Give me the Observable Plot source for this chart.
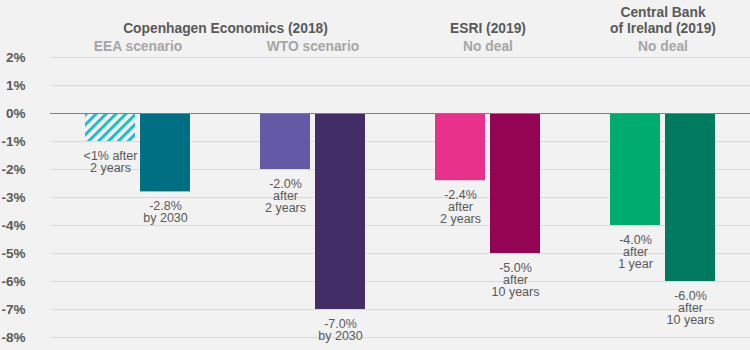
<!DOCTYPE html>
<html><head><meta charset="utf-8">
<script src="https://cdn.jsdelivr.net/npm/d3@7"></script>
<script src="https://cdn.jsdelivr.net/npm/@observablehq/plot@0.6"></script>
<style>
html,body{margin:0;padding:0;background:#f2f2f2;}
#chart svg{display:block;}
</style></head><body><div id="chart"></div>
<script>
const groups = ["CE-EEA", "CE-WTO", "ESRI", "CBI"];
const barGroup = ["CE-EEA", "CE-EEA", "CE-WTO", "CE-WTO", "ESRI", "ESRI", "CBI", "CBI"];
const barSlot = ["first", "second", "first", "second", "first", "second", "first", "second"];
const barValue = [-1.0, -2.8, -2.0, -7.0, -2.4, -5.0, -4.0, -6.0];
const barLabel = ["<1% after\n2 years", "-2.8%\nby 2030", "-2.0%\nafter\n2 years", "-7.0%\nby 2030",
  "-2.4%\nafter\n2 years", "-5.0%\nafter\n10 years", "-4.0%\nafter\n1 year", "-6.0%\nafter\n10 years"];
const barColor = ["url(#hatch)", "#006f84", "#6459a6", "#422d66", "#e8318a", "#950452", "#00ab6e", "#007a5e"];
const yTicks = [2, 1, 0, -1, -2, -3, -4, -5, -6, -7, -8];
const spanTitleGroup = ["CE-EEA"];
const spanTitleText = ["Copenhagen Economics (2018)"];
const titleGroup = ["ESRI", "CBI"];
const titleText = ["ESRI (2019)", "Central Bank\nof Ireland (2019)"];
const subTitleText = ["EEA scenario", "WTO scenario", "No deal", "No deal"];

const bars = barValue.map((v, i) => ({group: barGroup[i], slot: barSlot[i], value: v, label: barLabel[i], color: barColor[i]}));
const spanTitles = spanTitleText.map((t, i) => ({group: spanTitleGroup[i], text: t}));
const titles = titleText.map((t, i) => ({group: titleGroup[i], text: t}));
const subTitles = subTitleText.map((t, i) => ({group: groups[i], text: t}));

const font = "'Liberation Sans', Arial, sans-serif";
const chart = Plot.plot({
  width: 750, height: 350,
  marginTop: 57, marginBottom: 13, marginLeft: 50, marginRight: 0,
  style: {background: "#f2f2f2", fontFamily: font},
  fx: {domain: groups, padding: 0, axis: null, label: null},
  x: {domain: ["first", "second"], paddingInner: 5 / 55, paddingOuter: 35 / 55, axis: null, label: null},
  y: {domain: [-8, 2], axis: null, label: null},
  color: {type: "identity"},
  marks: [
    Plot.ruleY(yTicks.filter(d => d !== 0), {stroke: "#d9d9d9", strokeWidth: 1}),
    Plot.barY(bars, {fx: "group", x: "slot", y: "value", fill: "color"}),
    Plot.ruleY([0], {stroke: "#808080", strokeWidth: 1}),
    Plot.text(bars, {fx: "group", x: "slot", y: "value", text: "label", lineAnchor: "top", dy: 9.5, fontSize: 12.5, lineHeight: 0.98, fill: "#595959"}),
    Plot.axisY(yTicks, {label: null, tickSize: 0, tickPadding: 25, tickFormat: d => `${d}%`, fontSize: 13.5, fontWeight: "bold", fill: "#595959"}),
    Plot.text(spanTitles, {fx: "group", text: "text", frameAnchor: "top-right", textAnchor: "middle", lineAnchor: "bottom", dy: -25, fontSize: 13.8, fontWeight: "bold", fill: "#595959"}),
    Plot.text(titles, {fx: "group", text: "text", frameAnchor: "top", textAnchor: "middle", lineAnchor: "bottom", dy: -25, fontSize: 13.8, lineHeight: 1.16, fontWeight: "bold", fill: "#595959"}),
    Plot.text(subTitles, {fx: "group", text: "text", frameAnchor: "top", textAnchor: "middle", lineAnchor: "bottom", dy: -7, fontSize: 13.8, fontWeight: "bold", fill: "#a6a6a6"})
  ]
});
d3.select(chart).insert("defs", ":first-child").html(
  `<pattern id="hatch" patternUnits="userSpaceOnUse" width="7" height="7" patternTransform="rotate(45)">
     <line x1="1.5" y1="0" x2="1.5" y2="7" stroke="#1fbfc6" stroke-width="3"/>
   </pattern>`);
document.getElementById("chart").appendChild(chart);
</script></body></html>
